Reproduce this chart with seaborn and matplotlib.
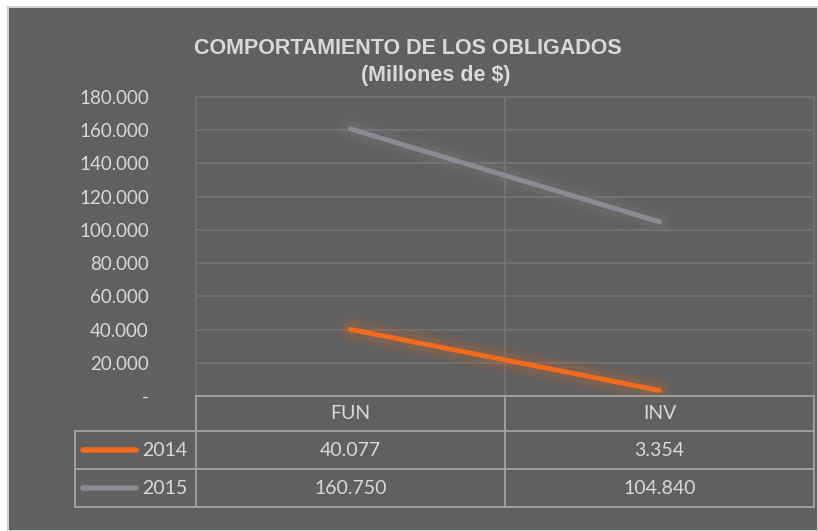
import numpy as np
import pandas as pd
import seaborn as sns
import matplotlib.pyplot as plt
from matplotlib.lines import Line2D
from matplotlib.patches import Rectangle
from matplotlib.ticker import FuncFormatter

# data
categories = ['FUN', 'INV']
years = ['2014', '2015']
values_2014 = [40077, 3354]
values_2015 = [160750, 104840]
line_colors = {'2014': '#f26a1b', '2015': '#8b8b95'}

df = pd.DataFrame({
    'cat': categories * 2,
    'year': [years[0]] * 2 + [years[1]] * 2,
    'value': values_2014 + values_2015,
})

BG = '#606060'
TXT = '#d9d9d9'
GRID = '#747474'
TBL = '#a3a3a3'

sns.set_theme(style='white')
plt.rcParams['font.family'] = ['Lato', 'DejaVu Sans']

W, H = 818, 531
fig = plt.figure(figsize=(W / 100, H / 100), dpi=100, facecolor='white')

def fx(x):
    return x / W

def fy(y):
    return 1 - y / H

# chart background with thin border
bg = Rectangle((fx(8), 0), 1 - fx(8), fy(7), transform=fig.transFigure,
               facecolor=BG, edgecolor='#d0d0d0', linewidth=1.5, zorder=-10)
fig.add_artist(bg)

ax = fig.add_axes([fx(196), fy(396), fx(814) - fx(196), fy(97) - fy(396)])
ax.set_facecolor(BG)

# soft glow under the lines
for lw, a in [(22, 0.04), (16, 0.06), (11, 0.1)]:
    sns.lineplot(data=df, x='cat', y='value', hue='year', palette=line_colors,
                 linewidth=lw, alpha=a, legend=False, ax=ax,
                 solid_capstyle='round')
sns.lineplot(data=df, x='cat', y='value', hue='year', palette=line_colors,
             linewidth=3.5, legend=False, ax=ax, solid_capstyle='round')

ax.set_xlim(-0.5, 1.5)
ax.set_ylim(0, 180000)
ax.set_yticks(np.arange(0, 180001, 20000))
ax.yaxis.set_major_formatter(FuncFormatter(
    lambda v, p: '-' if v == 0 else f'{int(v):,}'.replace(',', '.')))
ax.set_xticks([0.5])
ax.set_xticklabels([])
ax.tick_params(axis='y', length=0, pad=34, labelsize=13.5, labelcolor=TXT)
ax.tick_params(axis='x', length=0)
for lbl in ax.get_yticklabels():
    lbl.set_horizontalalignment('right')
ax.grid(True, color=GRID, linewidth=1.2)
for s in ax.spines.values():
    s.set_color(GRID)
    s.set_linewidth(1.2)
ax.spines['bottom'].set_visible(False)
ax.set_xlabel('')
ax.set_ylabel('')

# title
fig.text(fx(408), fy(49), 'COMPORTAMIENTO DE LOS OBLIGADOS', ha='center', va='center',
         fontsize=15.5, fontweight='bold', color=TXT, family='Liberation Sans')
fig.text(fx(436), fy(76), '(Millones de $)', ha='center', va='center',
         fontsize=15.5, fontweight='bold', color=TXT, family='Liberation Sans')

# data table
col_x = [196, 505, 814]
row_y = [396, 431, 469, 507]
left_x = 75

def hline(x0, x1, y):
    fig.add_artist(Line2D([fx(x0), fx(x1)], [fy(y), fy(y)], color=TBL, lw=1.3,
                          transform=fig.transFigure))

def vline(x, y0, y1):
    fig.add_artist(Line2D([fx(x), fx(x)], [fy(y0), fy(y1)], color=TBL, lw=1.3,
                          transform=fig.transFigure))

hline(col_x[0], col_x[-1], row_y[0])
for y in row_y[1:]:
    hline(left_x, col_x[-1], y)
for x in col_x:
    vline(x, row_y[0], row_y[-1])
vline(left_x, row_y[1], row_y[-1])

for i, c in enumerate(categories):
    cx = (col_x[i] + col_x[i + 1]) / 2
    fig.text(fx(cx), fy((row_y[0] + row_y[1]) / 2), c, ha='center', va='center',
             fontsize=14, color=TXT)

for r, (yr, vals) in enumerate(zip(years, [values_2014, values_2015])):
    cy = (row_y[r + 1] + row_y[r + 2]) / 2
    fig.add_artist(Line2D([fx(83), fx(136)], [fy(cy), fy(cy)], color=line_colors[yr],
                          lw=4, solid_capstyle='round', transform=fig.transFigure))
    fig.text(fx(165), fy(cy), yr, ha='center', va='center', fontsize=14, color=TXT)
    for i, v in enumerate(vals):
        cx = (col_x[i] + col_x[i + 1]) / 2
        fig.text(fx(cx), fy(cy), f'{v:,}'.replace(',', '.'), ha='center', va='center',
                 fontsize=14, color=TXT)

fig.savefig('out.png', dpi=100, facecolor=fig.get_facecolor())
